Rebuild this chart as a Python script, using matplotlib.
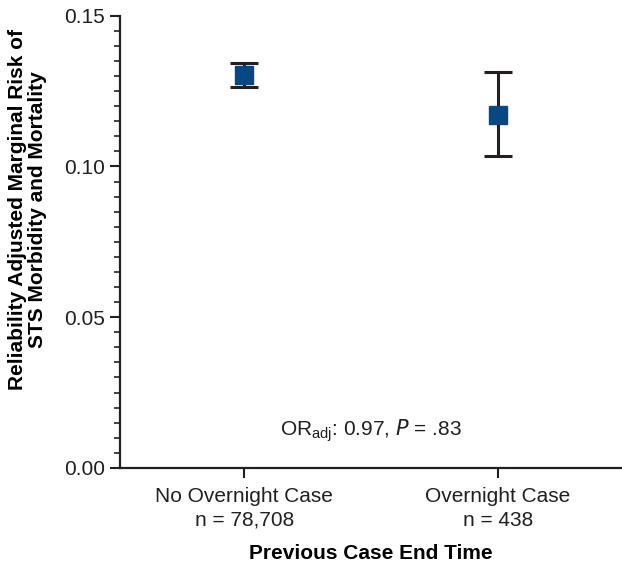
import matplotlib
matplotlib.use("Agg")
import matplotlib.pyplot as plt
from matplotlib.ticker import MultipleLocator

# Datos
categorias = ["No Overnight Case\nn = 78,708", "Overnight Case\nn = 438"]
riesgo = [0.1303, 0.1172]
ic_bajo = [0.1263, 0.1036]
ic_alto = [0.1343, 0.1312]

plt.rcParams['font.family'] = ['Liberation Sans', 'DejaVu Sans']

fig = plt.figure(figsize=(6.22, 5.63), dpi=100)
ax = fig.add_axes([0.193, 0.169, 0.807, 0.803])

x = list(range(len(categorias)))
err = [[r - lo for r, lo in zip(riesgo, ic_bajo)],
       [hi - r for r, hi in zip(riesgo, ic_alto)]]
ax.errorbar(x, riesgo, yerr=err, fmt='none', ecolor='#231f20',
            elinewidth=2.2, capsize=10, capthick=2.2, zorder=2)
ax.plot(x, riesgo, 's', color='#074882', markersize=13, zorder=3)

ax.set_xlim(-0.49, 1.49)
ax.set_ylim(0, 0.15)
ax.set_xticks(x)
ax.set_xticklabels(categorias, linespacing=1.3)
ax.yaxis.set_major_locator(MultipleLocator(0.05))
ax.yaxis.set_minor_locator(MultipleLocator(0.005))
ax.yaxis.set_major_formatter(plt.FormatStrFormatter('%.2f'))

for lado in ['top', 'right']:
    ax.spines[lado].set_visible(False)
for lado in ['left', 'bottom']:
    ax.spines[lado].set_linewidth(1.6)
    ax.spines[lado].set_color('#231f20')

ax.tick_params(axis='both', which='major', length=7, width=1.5, labelsize=15,
               color='#231f20', labelcolor='#231f20')
ax.tick_params(axis='y', which='minor', length=4, width=1.2, color='#231f20')
ax.tick_params(axis='x', pad=7)
ax.tick_params(axis='y', pad=4)

ax.set_xlabel('Previous Case End Time', fontsize=15, fontweight='bold', labelpad=10)
ax.set_ylabel('Reliability Adjusted Marginal Risk of\nSTS Morbidity and Mortality',
              fontsize=15, fontweight='bold', linespacing=1.08)
ax.yaxis.set_label_coords(-0.145, 0.571)

ax.text(0.5, 0.0125, r'OR$_{\mathregular{adj}}$: 0.97, $\mathregular{\it{P}}$ = .83',
        ha='center', va='center', fontsize=15, color='#231f20')

fig.savefig('out.png', dpi=100)
